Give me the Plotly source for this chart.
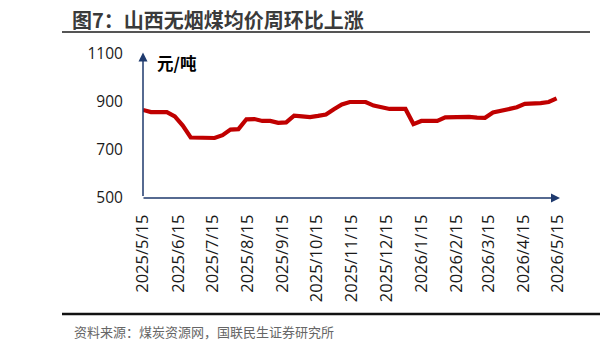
import plotly.graph_objects as go
import pandas as pd

start_date = "2025-05-15"
prices = [867, 858, 858, 858, 840, 802, 752, 750, 750, 750,
          762, 785, 787, 828, 829, 821, 821, 813, 815, 843,
          840, 837, 842, 848, 870, 890, 900, 900, 900, 885,
          877, 871, 871, 871, 808, 821, 821, 821, 836, 837,
          838, 838, 835, 834, 856, 862, 872, 878, 892, 892,
          895, 900, 915]
dates = pd.date_range(start_date, periods=len(prices), freq="7D")

tick_dates = pd.date_range("2025-05-01", "2026-05-01", freq="MS") + pd.Timedelta(days=14)
tick_labels = [f"{d.year}/{d.month}/{d.day}" for d in tick_dates]
y_ticks = [500, 700, 900, 1100]

title = "图7：山西无烟煤均价周环比上涨"
unit = "元/吨"
source = "资料来源：煤炭资源网，国联民生证券研究所"

CJK = "Noto Sans CJK SC"
NUM = "Open Sans"
navy = "#1F3A6E"

fig = go.Figure()
fig.add_trace(go.Scatter(x=dates, y=prices, mode="lines",
                         line=dict(color="#C00000", width=4.2),
                         hoverinfo="skip"))

fig.update_layout(
    width=600, height=349,
    margin=dict(l=143, r=40, t=54, b=151),
    paper_bgcolor="white", plot_bgcolor="white",
    showlegend=False,
    xaxis=dict(type="date", range=["2025-05-15", "2026-05-17"],
               tickvals=list(tick_dates), ticktext=tick_labels,
               tickangle=-90, showgrid=False, zeroline=False, showline=False,
               ticks="outside", ticklen=9, tickcolor="rgba(0,0,0,0)",
               tickfont=dict(family=NUM, size=16.5, color="#1a1a1a")),
    yaxis=dict(range=[500, 1100], tickvals=y_ticks,
               showgrid=False, zeroline=False, showline=False,
               ticks="outside", ticklen=16, tickcolor="rgba(0,0,0,0)",
               tickfont=dict(family=NUM, size=15.5, color="#1a1a1a")),
)

# axis arrows
fig.add_annotation(xref="paper", yref="paper", x=0, y=1.01, ax=0, ay=145,
                   axref="pixel", ayref="pixel", showarrow=True, arrowhead=2,
                   arrowsize=1.2, arrowwidth=1.5, arrowcolor=navy, text="")
fig.add_annotation(xref="paper", yref="paper", x=1.0, y=0, ax=-418, ay=0,
                   axref="pixel", ayref="pixel", showarrow=True, arrowhead=2,
                   arrowsize=1.2, arrowwidth=1.5, arrowcolor=navy, text="")

fig.add_annotation(xref="paper", yref="paper", x=0.028, y=0.935, xanchor="left", yanchor="middle",
                   text=f"<b>{unit}</b>", showarrow=False,
                   font=dict(family=CJK, size=16.5, color="#000000"))

# title and source
fig.add_annotation(xref="paper", yref="paper", x=(70-143)/417, y=1+(54-20)/144,
                   xanchor="left", yanchor="middle", text=f"<b>{title}</b>", showarrow=False,
                   font=dict(family=CJK, size=20, color="#3a3a3a"))
fig.add_annotation(xref="paper", yref="paper", x=(72-143)/417, y=-(331-198)/144,
                   xanchor="left", yanchor="middle", text=source, showarrow=False,
                   font=dict(family=CJK, size=13, color="#666666"))

fig.add_shape(type="line", xref="paper", yref="paper",
              x0=(62-143)/417, x1=(590-143)/417, y0=1+(54-32)/144, y1=1+(54-32)/144,
              line=dict(color="#555555", width=2))
fig.add_shape(type="line", xref="paper", yref="paper",
              x0=(62-143)/417, x1=(600-143)/417, y0=-(314-198)/144, y1=-(314-198)/144,
              line=dict(color="#111111", width=2.5))

fig.write_html("out.html")
